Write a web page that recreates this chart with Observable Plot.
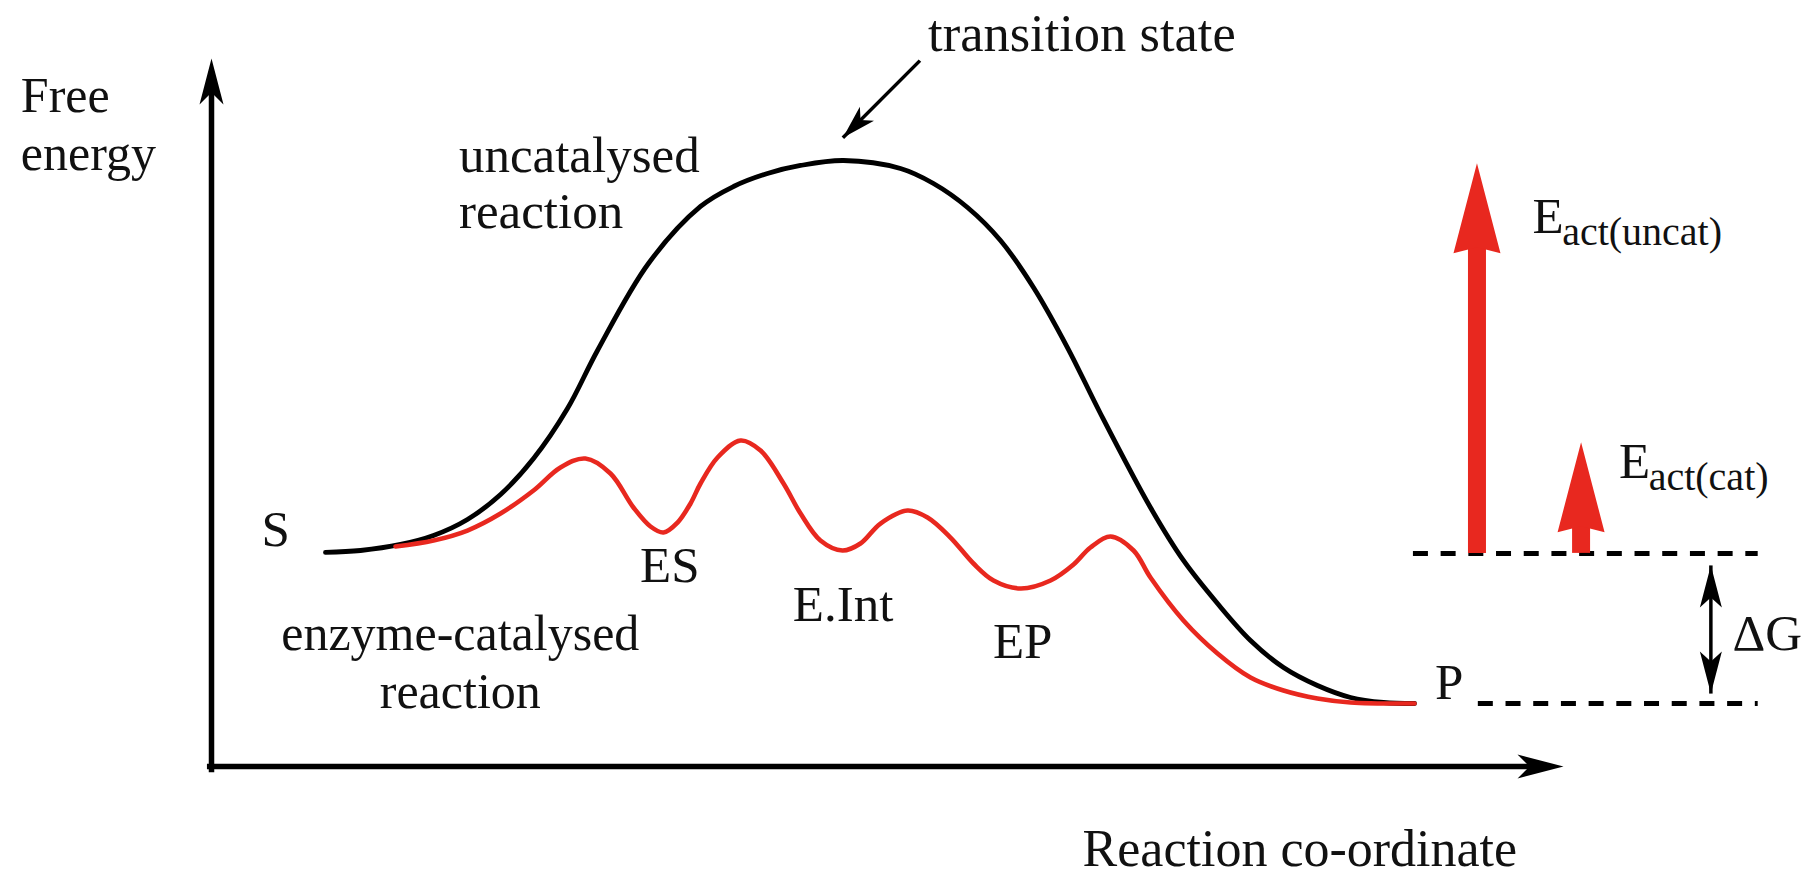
<!DOCTYPE html>
<html><head><meta charset="utf-8">
<script src="https://cdn.jsdelivr.net/npm/d3@7"></script>
<script src="https://cdn.jsdelivr.net/npm/@observablehq/plot@0.6"></script>
<style>html,body{margin:0;padding:0;background:#fff;} #chart svg{display:block}</style>
</head><body><div id="chart"></div>
<script>
// Reaction coordinate (0 = origin, 100 = end of axis) and free energy (0 = axis, 100 = top of axis)
const uncatX = [8.43, 11.02, 13.98, 16.42, 18.93, 21.38, 23.82, 26.33, 28.55, 32.32, 36.17, 38.61, 41.12, 43.57, 46.75, 50.96, 53.40, 55.92, 58.36, 60.80, 63.31, 65.75, 69.45, 71.89, 74.41, 76.85, 79.29, 81.80, 84.25, 86.69, 88.98];
const uncatG = [30.23, 30.51, 31.36, 32.63, 34.89, 38.42, 43.50, 50.56, 58.76, 71.05, 79.10, 81.92, 83.76, 84.89, 85.59, 84.46, 82.34, 78.95, 74.29, 67.66, 59.18, 49.86, 36.58, 29.10, 23.02, 17.80, 13.98, 11.44, 9.75, 9.04, 8.90];

const catX = [13.61, 16.42, 18.93, 21.38, 23.82, 25.81, 27.66, 29.51, 31.21, 32.47, 33.43, 34.47, 35.43, 36.17, 37.43, 39.13, 40.61, 42.31, 43.57, 45.04, 46.67, 48.00, 49.48, 51.48, 52.96, 54.66, 56.36, 57.84, 59.84, 62.06, 63.76, 65.01, 66.49, 68.20, 69.45, 71.89, 74.41, 76.85, 79.29, 81.80, 84.25, 88.98];
const catG = [31.07, 31.92, 33.33, 35.73, 38.98, 42.23, 43.50, 41.38, 36.58, 33.90, 33.05, 34.46, 37.15, 39.97, 43.64, 46.05, 44.63, 39.97, 35.73, 31.92, 30.51, 31.50, 34.32, 36.16, 35.17, 32.34, 28.67, 26.27, 25.14, 26.27, 28.53, 30.93, 32.49, 30.51, 26.69, 20.62, 15.96, 12.57, 10.73, 9.60, 9.04, 8.90];

// Energy levels (dashed) and activation-energy arrows
const levelNames = ["S level", "P level"];
const levelG = [30.1, 8.9];
const levelX1 = [88.9, 93.7];
const levelX2 = [114.4, 114.4];

const eactNames = ["uncat", "cat"];
const eactX = [93.6, 101.3];
const eactFrom = [30.1, 30.1];
const eactTo = [85.2, 45.8];

const deltaGX = 110.9;
const deltaGTop = 28.4;
const deltaGBottom = 10.3;

// Annotation pointer to transition state
const tsArrowFrom = {x: 52.4, g: 99.7};
const tsArrowTo = {x: 46.7, g: 88.8};

// Labels (text + position in data units)
const labelsStart = [
  {text: "uncatalysed", x: 18.3, g: 84.0},
  {text: "reaction", x: 18.3, g: 76.1},
  {text: "S", x: 3.7, g: 31.1},
  {text: "ES", x: 31.7, g: 26.0},
  {text: "E.Int", x: 43.0, g: 20.5},
  {text: "EP", x: 57.8, g: 15.3},
  {text: "P", x: 90.5, g: 9.6},
  {text: "E", x: 97.7, g: 75.4},
  {text: "E", x: 104.1, g: 40.7},
  {text: "\u0394G", x: 112.5, g: 16.4}
];
const labelsYTitle = [
  {text: "Free", x: -14.1, g: 92.4},
  {text: "energy", x: -14.1, g: 84.2}
];
const labelsTS = [
  {text: "transition state", x: 53.0, g: 101.1}
];
const labelsSub = [
  {text: "act(uncat)", x: 99.9, g: 73.6},
  {text: "act(cat)", x: 106.3, g: 39.0}
];
const labelsMiddle = [
  {text: "enzyme-catalysed", x: 18.4, g: 16.4},
  {text: "reaction", x: 18.4, g: 8.3}
];
const labelsXTitle = [
  {text: "Reaction co-ordinate", x: 80.5, g: -14.1}
];

const uncat = uncatX.map((x, i) => ({x, g: uncatG[i]}));
const cat = catX.map((x, i) => ({x, g: catG[i]}));
const levels = levelNames.map((name, i) => ({name, g: levelG[i], x1: levelX1[i], x2: levelX2[i]}));
const eact = eactNames.map((name, i) => ({name, x: eactX[i], from: eactFrom[i], to: eactTo[i]}));

const RED = "#e8281f";
const FONT = "'Liberation Serif', 'Times New Roman', serif";
const INK = "#111";

// Filled (notched) arrowhead symbol: tip at the anchor, pointing up, rotated clockwise by angle
function arrowHead(len, half, notch, angle) {
  const t = angle * Math.PI / 180, c = Math.cos(t), s = Math.sin(t);
  const rot = ([x, y]) => [x * c - y * s, x * s + y * c];
  const pts = [[0, 0], [-half, len], [0, notch], [half, len]].map(rot);
  return {draw(ctx) {
    ctx.moveTo(pts[0][0], pts[0][1]);
    for (let i = 1; i < pts.length; i++) ctx.lineTo(pts[i][0], pts[i][1]);
    ctx.closePath();
  }};
}

const textOpts = (anchor, size) => ({x: "x", y: "g", text: "text", textAnchor: anchor, lineAnchor: "bottom", fontSize: size, fontFamily: FONT, fill: INK});

const chart = Plot.plot({
  width: 1806,
  height: 880,
  marginLeft: 211,
  marginRight: 243,
  marginTop: 58,
  marginBottom: 114,
  x: {domain: [0, 100], axis: null},
  y: {domain: [0, 100], axis: null},
  style: {background: "#fff", fontFamily: FONT},
  marks: [
    // axes
    Plot.ruleX([0], {y1: 100, y2: -0.9, insetTop: 30, stroke: "#000", strokeWidth: 5.5}),
    Plot.dot([{x: 0, g: 100}], {x: "x", y: "g", r: 1, symbol: arrowHead(46, 12, 34, 0), fill: "#000", stroke: "none"}),
    Plot.ruleY([0], {x1: -0.3, x2: 100, insetRight: 30, stroke: "#000", strokeWidth: 5.5}),
    Plot.dot([{x: 100, g: 0}], {x: "x", y: "g", r: 1, symbol: arrowHead(46, 12, 34, 90), fill: "#000", stroke: "none"}),

    // curves
    Plot.line(uncat, {x: "x", y: "g", curve: "catmull-rom", stroke: "#000", strokeWidth: 4.8}),
    Plot.line(cat, {x: "x", y: "g", curve: "catmull-rom", stroke: RED, strokeWidth: 4.6}),

    // dashed energy levels
    Plot.ruleY(levels, {y: "g", x1: "x1", x2: "x2", stroke: "#000", strokeWidth: 5, strokeDasharray: "15,12.7"}),

    // activation energy arrows
    Plot.ruleX(eact, {x: "x", y1: "to", y2: "from", insetTop: 84, stroke: RED, strokeWidth: 18}),
    Plot.dot(eact, {x: "x", y: "to", r: 1, symbol: arrowHead(90, 23.5, 84, 0), fill: RED, stroke: "none"}),

    // delta G double arrow
    Plot.link([{x: deltaGX, a: deltaGTop, b: deltaGBottom}], {x1: "x", x2: "x", y1: "a", y2: "b", stroke: "#000", strokeWidth: 3.5}),
    Plot.dot([{x: deltaGX, g: deltaGTop}], {x: "x", y: "g", r: 1, symbol: arrowHead(42, 11, 32, 0), fill: "#000", stroke: "none"}),
    Plot.dot([{x: deltaGX, g: deltaGBottom}], {x: "x", y: "g", r: 1, symbol: arrowHead(42, 11, 32, 180), fill: "#000", stroke: "none"}),

    // transition state pointer
    Plot.link([{a: tsArrowFrom, b: tsArrowTo}], {x1: d => d.a.x, y1: d => d.a.g, x2: d => d.b.x, y2: d => d.b.g, stroke: "#000", strokeWidth: 3.5}),
    Plot.dot([tsArrowTo], {x: "x", y: "g", r: 1, symbol: arrowHead(34, 10, 25, -135), fill: "#000", stroke: "none"}),

    // labels
    Plot.text(labelsStart, textOpts("start", 51)),
    Plot.text(labelsYTitle, textOpts("start", 50)),
    Plot.text(labelsTS, textOpts("start", 52.5)),
    Plot.text(labelsSub, textOpts("start", 40)),
    Plot.text(labelsMiddle, textOpts("middle", 50)),
    Plot.text(labelsXTitle, textOpts("middle", 52))
  ]
});
document.getElementById("chart").appendChild(chart);
</script></body></html>
